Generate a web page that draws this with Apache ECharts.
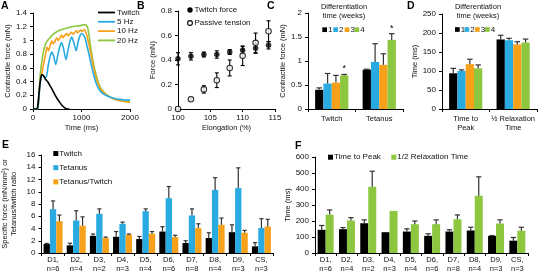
<!DOCTYPE html>
<html><head><meta charset="utf-8">
<script src="https://cdn.jsdelivr.net/npm/echarts@6/dist/echarts.min.js"></script>
<style>html,body{margin:0;padding:0;background:#fff}#c{width:538px;height:277px}</style>
</head><body><div id="c"></div>
<script>
// ---------- Panel A : force traces ----------
const twitchTime  = [0,80,100,120,140,160,180,200,230,260,300,350,400,450,500,550,600,650,700,750];
const twitchForce = [0,0,0.05,0.2,0.35,0.45,0.5,0.5,0.47,0.43,0.4,0.34,0.28,0.21,0.15,0.1,0.05,0.02,0,0];
const hz5Time  = [0,90,110,150,190,230,270,310,350,390,430,470,510,550,590,630,680,720,760,800,840,890,930,970,1000,1040,1080,1120,1160,1200,1250,1300,1350,1400,1450,1500,1600,1700,1800,1900,2000];
const hz5Force = [0,0,0.08,0.38,0.5,0.47,0.46,0.62,0.76,0.83,0.76,0.65,0.78,0.9,0.97,0.88,0.72,0.85,0.98,1.05,0.97,0.85,0.98,1.07,1.1,1.08,1.02,0.9,0.78,0.65,0.5,0.38,0.3,0.25,0.22,0.2,0.17,0.15,0.14,0.13,0.13];
const hz10Time  = [0,90,110,150,190,230,260,290,320,350,390,420,450,490,520,550,590,620,650,690,720,750,790,820,850,890,920,950,990,1020,1060,1100,1150,1200,1250,1300,1350,1400,1500,1600,1700,1800,1900,2000];
const hz10Force = [0,0,0.08,0.4,0.55,0.7,0.8,0.9,0.85,0.92,0.99,0.95,0.98,1.04,1.0,1.03,1.08,1.04,1.07,1.1,1.07,1.09,1.12,1.09,1.11,1.14,1.11,1.13,1.15,1.13,1.16,1.1,0.95,0.78,0.6,0.45,0.35,0.28,0.21,0.17,0.14,0.12,0.11,0.1];
const hz20Time  = [0,90,110,150,200,250,300,350,400,500,600,700,800,900,1000,1050,1100,1130,1160,1200,1250,1300,1350,1400,1500,1600,1700,1800,1900,2000];
const hz20Force = [0,0,0.08,0.5,0.78,0.93,1.0,1.04,1.08,1.13,1.16,1.18,1.2,1.21,1.22,1.23,1.22,1.18,1.05,0.85,0.65,0.5,0.38,0.3,0.22,0.17,0.14,0.12,0.11,0.1];

// ---------- Panel B : length-tension ----------
const elongation   = [100,102,104,106,108,110,112,114];
const twitchForceB = [0.41,0.43,0.445,0.445,0.465,0.48,0.495,0.52];
const twitchErrB   = [0.05,0.03,0.02,0.03,0.02,0.03,0.04,0.03];
const passiveB     = [0,0.08,0.16,0.235,0.335,0.435,0.54,0.635];
const passiveErrB  = [0,0.015,0.03,0.06,0.065,0.08,0.08,0.085];

// ---------- Panel C / D : differentiation time ----------
const weeks = ['1','2','3','4'];
const cCategories = ['Twitch','Tetanus'];
const cForce    = [[0.40,0.82],[0.53,0.98],[0.55,0.92],[0.70,1.44]];
const cForceErr = [[0.04,0.01],[0.21,0.38],[0.15,0.23],[0.02,0.13]];
const cSignif   = [['',''],['',''],['',''],['*','*']];
const dCategories = ['Time to\nPeak','½ Relaxation\nTime'];
const dTime    = [[94,183],[100,181],[118,170],[107,175]];
const dTimeErr = [[13,11],[3,5],[13,7],[9,9]];

// ---------- Panel E / F : donors ----------
const donors = ['D1,\nn=6','D2,\nn=4','D3,\nn=2','D4,\nn=3','D5,\nn=4','D6,\nn=6','D7,\nn=8','D8,\nn=4','D9,\nn=3','CS,\nn=3'];
const eTwitch     = [1.46,1.25,2.8,2.65,2.28,3.5,1.63,2.44,3.4,1.08];
const eTwitchErr  = [0.1,0.35,0.3,0.85,0.42,0.8,0.37,0.86,1.2,0.62];
const eTetanus    = [7.16,5.3,6.4,4.77,6.83,8.95,6.13,10.3,10.6,4.1];
const eTetanusErr = [1.34,1.6,0.8,0.27,0.37,1.9,1.07,2.0,3.3,1.5];
const eRatio      = [5.2,4.45,2.45,3.0,3.15,2.6,4.07,4.6,3.3,4.34];
const eRatioErr   = [1.0,1.45,0.15,0.1,0.35,0.3,0.7,1.1,0.4,1.16];
const fTtp      = [145,149,186,130,134,107,134,141,107,77];
const fTtpErr   = [27,10,21,0,17,13,11,20,2,20];
const fRelax    = [240,203,414,263,180,180,211,358,184,139];
const fRelaxErr = [29,18,97,0,20,27,27,118,23,22];

// ---------- styling ----------
const FONT = '"Liberation Sans", Arial, sans-serif';
const TXT = '#111';
const BLACK = '#000000', BLUE = '#29ABE2', ORANGE = '#F7A11A', GREEN = '#8DC63F';
const weekColors = [BLACK, BLUE, ORANGE, GREEN];
const plain = v => String(v);

function axisBase(extra) {
  return Object.assign({
    axisLine: {show: true, lineStyle: {color: '#000', width: 1}},
    axisTick: {show: true, inside: false, length: 3, lineStyle: {color: '#000'}},
    splitLine: {show: false},
    axisLabel: {fontSize: 8, color: TXT, fontFamily: FONT, margin: 6, formatter: plain},
    nameTextStyle: {fontSize: 7.5, color: TXT, fontFamily: FONT},
    nameLocation: 'middle'
  }, extra);
}
function catLabel(margin, lh) {
  return {fontSize: 7.5, color: TXT, fontFamily: FONT, margin: margin, interval: 0, lineHeight: lh};
}

function zipXY(xs, ys) { return xs.map((x, i) => [x, ys[i]]); }

function barErr(axisIdx, k, n, gap, values, errs, marks) {
  return {
    type: 'custom', xAxisIndex: axisIdx, yAxisIndex: axisIdx, z: 5, silent: true,
    data: values.map((v, i) => [i, v, errs[i]]),
    encode: {x: 0, y: 1},
    renderItem: function (params, api) {
      const i = api.value(0), v = api.value(1), e = api.value(2);
      const mark = marks ? marks[params.dataIndex] : '';
      const band = api.size([1, 0])[0];
      const bw = band * (1 - gap) / n;
      const p0 = api.coord([i, v]);
      const x = p0[0] + (k - (n - 1) / 2) * bw;
      const y1 = api.coord([i, v + e])[1];
      const cap = bw * 0.33;
      const ch = [];
      if (e > 0) {
        ch.push({type: 'line', shape: {x1: x, y1: p0[1], x2: x, y2: y1}, style: {stroke: '#333', lineWidth: 1.2}});
        ch.push({type: 'line', shape: {x1: x - cap, y1: y1, x2: x + cap, y2: y1}, style: {stroke: '#333', lineWidth: 1.2}});
      }
      if (mark) ch.push({type: 'text', style: {text: mark, x: x, y: y1 - 1, align: 'center', verticalAlign: 'bottom', fontSize: 9, fill: '#000', fontFamily: FONT}});
      return {type: 'group', children: ch};
    }
  };
}
function scatErr(values, errs) {
  return {
    type: 'custom', xAxisIndex: 1, yAxisIndex: 1, z: 3, silent: true,
    data: elongation.map((x, i) => [x, values[i], errs[i]]),
    encode: {x: 0, y: 1},
    renderItem: function (params, api) {
      const x = api.value(0), v = api.value(1), e = api.value(2);
      if (!(e > 0)) return {type: 'group', children: []};
      const pt = api.coord([x, v]);
      const lo = api.coord([x, v - e])[1], hi = api.coord([x, v + e])[1];
      const c = 2;
      const st = {stroke: '#000', lineWidth: 1.1};
      return {type: 'group', children: [
        {type: 'line', shape: {x1: pt[0], y1: lo, x2: pt[0], y2: hi}, style: st},
        {type: 'line', shape: {x1: pt[0] - c, y1: lo, x2: pt[0] + c, y2: lo}, style: st},
        {type: 'line', shape: {x1: pt[0] - c, y1: hi, x2: pt[0] + c, y2: hi}, style: st}
      ]};
    }
  };
}

const series = [];
// Panel A lines
[[hz20Time, hz20Force, GREEN, '20 Hz'], [hz10Time, hz10Force, ORANGE, '10 Hz'], [hz5Time, hz5Force, BLUE, '5 Hz'], [twitchTime, twitchForce, BLACK, 'Twitch']]
  .forEach(s => series.push({type: 'line', name: s[3], xAxisIndex: 0, yAxisIndex: 0, data: zipXY(s[0], s[1]),
    showSymbol: false, symbol: 'none', smooth: 0.25, lineStyle: {color: s[2], width: 1.6}, silent: true}));
// Panel B
series.push(scatErr(twitchForceB, twitchErrB));
series.push(scatErr(passiveB, passiveErrB));
series.push({type: 'scatter', name: 'Twitch force', xAxisIndex: 1, yAxisIndex: 1, z: 4, clip: false, symbolSize: 5.5,
  itemStyle: {color: '#000'}, data: zipXY(elongation, twitchForceB), silent: true});
series.push({type: 'scatter', name: 'Passive tension', xAxisIndex: 1, yAxisIndex: 1, z: 4, clip: false, symbolSize: 5.5,
  itemStyle: {color: '#fff', borderColor: '#000', borderWidth: 1.1}, data: zipXY(elongation, passiveB), silent: true});
// Panel C, D
const gapCD = 0.3;
weeks.forEach((w, k) => {
  series.push({type: 'bar', name: 'C' + w, xAxisIndex: 2, yAxisIndex: 2, data: cForce[k], barGap: '0%', barCategoryGap: (gapCD * 100) + '%', itemStyle: {color: weekColors[k]}, silent: true});
  series.push({type: 'bar', name: 'D' + w, xAxisIndex: 3, yAxisIndex: 3, data: dTime[k], barGap: '0%', barCategoryGap: (gapCD * 100) + '%', itemStyle: {color: weekColors[k]}, silent: true});
});
weeks.forEach((w, k) => {
  series.push(barErr(2, k, 4, gapCD, cForce[k], cForceErr[k], cSignif[k]));
  series.push(barErr(3, k, 4, gapCD, dTime[k], dTimeErr[k]));
});
// Panel E
const gapE = 0.18;
[[eTwitch, eTwitchErr, BLACK], [eTetanus, eTetanusErr, BLUE], [eRatio, eRatioErr, ORANGE]].forEach((s, k) => {
  series.push({type: 'bar', xAxisIndex: 4, yAxisIndex: 4, data: s[0], barGap: '0%', barCategoryGap: (gapE * 100) + '%', itemStyle: {color: s[2]}, silent: true});
});
[[eTwitch, eTwitchErr], [eTetanus, eTetanusErr], [eRatio, eRatioErr]].forEach((s, k) => series.push(barErr(4, k, 3, gapE, s[0], s[1])));
// Panel F
const gapF = 0.25;
[[fTtp, fTtpErr, BLACK], [fRelax, fRelaxErr, GREEN]].forEach((s, k) => {
  series.push({type: 'bar', xAxisIndex: 5, yAxisIndex: 5, data: s[0], barGap: '0%', barCategoryGap: (gapF * 100) + '%', itemStyle: {color: s[2]}, silent: true});
});
[[fTtp, fTtpErr], [fRelax, fRelaxErr]].forEach((s, k) => series.push(barErr(5, k, 2, gapF, s[0], s[1])));

// ---------- graphics: panel letters, legends ----------
const g = [];
function letter(t, x, y) { g.push({type: 'text', left: x, top: y, style: {text: t, fontSize: 10.5, fontWeight: 'bold', fill: '#000', fontFamily: FONT}}); }
letter('A', 1, 1); letter('B', 137, 1); letter('C', 267, 1); letter('D', 407, 1); letter('E', 2, 140); letter('F', 295, 141);
function txt(t, x, y, extra) { g.push({type: 'text', x: x, y: y, style: Object.assign({text: t, fontSize: 8, fill: TXT, fontFamily: FONT, verticalAlign: 'middle'}, extra || {})}); }
function sq(x, y, s, color) { g.push({type: 'rect', shape: {x: x, y: y - s / 2, width: s, height: s}, style: {fill: color}}); }
// A legend
[['Twitch', BLACK], ['5 Hz', BLUE], ['10 Hz', ORANGE], ['20 Hz', GREEN]].forEach((it, i) => {
  const y = 12.5 + i * 9.3;
  g.push({type: 'line', shape: {x1: 98, y1: y, x2: 115, y2: y}, style: {stroke: it[1], lineWidth: 1.8}});
  txt(it[0], 117, y);
});
// B legend
g.push({type: 'circle', shape: {cx: 190, cy: 10, r: 2.7}, style: {fill: '#000'}});
txt('Twitch force', 194.5, 10);
g.push({type: 'circle', shape: {cx: 190, cy: 23, r: 2.4}, style: {fill: '#fff', stroke: '#000', lineWidth: 1.1}});
txt('Passive tension', 194.5, 23);
// C / D legends
function weekLegend(cx, xs, y) {
  txt('Differentiation', cx, 6.5, {align: 'center', fontSize: 7.5});
  txt('time (weeks)', cx, 15.5, {align: 'center', fontSize: 7.5});
  weeks.forEach((w, k) => { sq(xs[k], y, 4.7, weekColors[k]); txt(w, xs[k] + 5.8, y); });
}
weekLegend(344, [322.3, 333.3, 344.7, 354.5], 29.7);
weekLegend(478, [455, 464.5, 475, 485], 29.5);
// E legend
[['Twitch', BLACK], ['Tetanus', BLUE], ['Tetanus/Twitch', ORANGE]].forEach((it, i) => {
  const y = 153.5 + i * 14.2;
  sq(53.3, y, 5, it[1]); txt(it[0], 59.3, y);
});
// F legend
sq(328, 157.2, 5, BLACK); txt('Time to Peak', 334, 157.2);
sq(391.3, 157.2, 5, GREEN); txt('1/2 Relaxation Time', 397.3, 157.2);

const option = {
  animation: false,
  backgroundColor: '#fff',
  textStyle: {fontFamily: FONT},
  grid: [
    {left: 33, top: 13, width: 97, height: 96},
    {left: 178, top: 11, width: 97, height: 98},
    {left: 308, top: 13, width: 95, height: 96},
    {left: 442, top: 14, width: 95, height: 95},
    {left: 40, top: 155, width: 233, height: 98},
    {left: 315, top: 157, width: 213, height: 96}
  ],
  xAxis: [
    axisBase({gridIndex: 0, type: 'value', min: 0, max: 2000, interval: 1000, name: 'Time (ms)', nameGap: 15,
      axisLabel: {fontSize: 8, color: TXT, fontFamily: FONT, margin: 5, formatter: plain}}),
    axisBase({gridIndex: 1, type: 'value', min: 100, max: 115, interval: 5, name: 'Elongation (%)', nameGap: 15,
      axisLabel: {fontSize: 8, color: TXT, fontFamily: FONT, margin: 5, formatter: plain}}),
    axisBase({gridIndex: 2, type: 'category', data: cCategories, axisLabel: catLabel(5, 9)}),
    axisBase({gridIndex: 3, type: 'category', data: dCategories, axisLabel: catLabel(5, 9)}),
    axisBase({gridIndex: 4, type: 'category', data: donors, axisLabel: catLabel(2.5, 8.7)}),
    axisBase({gridIndex: 5, type: 'category', data: donors, axisLabel: catLabel(2.5, 8.7)})
  ],
  yAxis: [
    axisBase({gridIndex: 0, type: 'value', min: 0, max: 1.4, interval: 0.2, name: 'Contractile force (mN)', nameGap: 18.5}),
    axisBase({gridIndex: 1, type: 'value', min: 0, max: 0.8, interval: 0.2, name: 'Force (mN)', nameGap: 15.5}),
    axisBase({gridIndex: 2, type: 'value', min: 0, max: 2, interval: 0.5, name: 'Contractile force (mN)', nameGap: 15}),
    axisBase({gridIndex: 3, type: 'value', min: 0, max: 250, interval: 50, name: 'Time (ms)', nameGap: 20}),
    axisBase({gridIndex: 4, type: 'value', min: 0, max: 16, interval: 2, name: 'Specific force (mN/mm²) or\nTetanus/twitch ratio', nameGap: 23.5,
      nameTextStyle: {fontSize: 7.5, color: TXT, fontFamily: FONT, lineHeight: 8.5}}),
    axisBase({gridIndex: 5, type: 'value', min: 0, max: 600, interval: 100, name: 'Time (ms)', nameGap: 23})
  ],
  series: series,
  graphic: g
};
const chart = echarts.init(document.getElementById('c'), null, {renderer: 'canvas'});
chart.setOption(option);
</script></body></html>
